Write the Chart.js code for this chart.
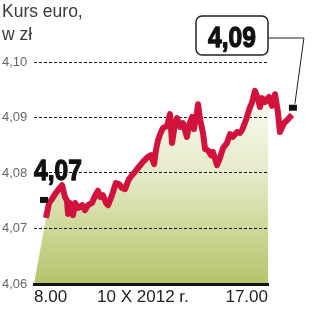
<!DOCTYPE html>
<html>
<head>
<meta charset="utf-8">
<script src="https://cdn.jsdelivr.net/npm/chart.js@4/dist/chart.umd.min.js"></script>
<style>
html,body{margin:0;padding:0;background:#fff;}
#wrap{position:relative;width:336px;height:334px;}
#title{position:absolute;left:2px;top:0px;font:17.5px "Liberation Sans",Arial,sans-serif;color:#3a3a3a;line-height:23px;}
</style>
</head>
<body>
<div id="wrap">
<canvas id="c"></canvas>
<div id="title">Kurs euro,<br>w zł</div>
</div>
<script>
// Time of day (decimal hours) and EUR/PLN rate, 10 X 2012
const times = [8.46,8.58,8.69,8.81,8.92,9.08,9.19,9.27,9.31,9.38,9.50,9.58,9.69,9.85,9.96,10.08,10.23,10.35,10.46,10.54,10.65,10.77,10.85,11.00,11.15,11.27,11.38,11.50,11.65,11.81,12.00,12.19,12.38,12.50,12.62,12.69,12.77,12.85,12.96,13.12,13.23,13.31,13.42,13.50,13.62,13.73,13.88,13.96,14.08,14.15,14.27,14.31,14.38,14.50,14.58,14.69,14.81,14.88,15.04,15.15,15.27,15.42,15.54,15.65,15.81,15.92,16.00,16.15,16.31,16.38,16.50,16.62,16.69,16.77,16.88,17.04,17.15,17.27,17.38,17.46,17.62,17.81,17.92];
const rates = [4.0719,4.0746,4.0753,4.0762,4.0769,4.0778,4.0757,4.0750,4.0726,4.0746,4.0724,4.0746,4.0737,4.0742,4.0733,4.0742,4.0746,4.0759,4.0768,4.0757,4.0760,4.0746,4.0742,4.0760,4.0782,4.0780,4.0773,4.0771,4.0789,4.0798,4.0809,4.0820,4.0829,4.0832,4.0816,4.0841,4.0859,4.0870,4.0881,4.0885,4.0906,4.0854,4.0888,4.0899,4.0883,4.0890,4.0865,4.0886,4.0901,4.0879,4.0910,4.0924,4.0899,4.0872,4.0843,4.0841,4.0832,4.0838,4.0814,4.0827,4.0845,4.0854,4.0870,4.0865,4.0874,4.0872,4.0877,4.0895,4.0919,4.0926,4.0948,4.0933,4.0919,4.0935,4.0928,4.0937,4.0921,4.0942,4.0910,4.0874,4.0890,4.0899,4.0905];
const fillEdgeTimes = [8, 17];
const xRange = [8, 17];
const yTicks = [4.06, 4.07, 4.08, 4.09, 4.10];
const xTickValues = [8, 12.19, 17];
const xTickLabels = ['8.00', '10 X 2012 r.', '17.00'];
const openLabel = '4,07';
const closeLabel = '4,09';

const linePts = times.map((t, i) => ({x: t, y: rates[i]}));
const fillPts = [{x: fillEdgeTimes[0], y: yTicks[0]}, ...linePts, {x: fillEdgeTimes[1], y: yTicks[0]}];

const BIG = 'bold 30px "Liberation Sans", Arial, sans-serif';
const SQUEEZE = 0.82;

function condensedText(c, txt, x, y, align) {
  c.save();
  c.font = BIG;
  const w = c.measureText(txt).width * SQUEEZE;
  let x0 = x;
  if (align === 'center') x0 = x - w / 2;
  c.translate(x0, y);
  c.scale(SQUEEZE, 1);
  c.textAlign = 'left';
  c.textBaseline = 'alphabetic';
  c.fillStyle = '#111';
  c.strokeStyle = '#111';
  c.lineWidth = 1.3;
  c.lineJoin = 'round';
  c.fillText(txt, 0, 0);
  c.strokeText(txt, 0, 0);
  c.restore();
}

// let the filler paint the area slightly past the axis end (the area's slanted right edge)
const wideFill = {
  id: 'wideFill',
  beforeRender(chart) {
    const a = chart.chartArea;
    this._saved = a.right;
    a.right = chart.width;
    a.width = a.right - a.left;
  },
  beforeDraw(chart) {
    const a = chart.chartArea;
    if (this._saved !== undefined) { a.right = this._saved; a.width = a.right - a.left; this._saved = undefined; }
  }
};

const annot = {
  id: 'annot',
  afterDraw(chart) {
    const c = chart.ctx, a = chart.chartArea;
    const pts = chart.getDatasetMeta(0).data;
    const first = pts[0], last = pts[pts.length - 1];
    c.save();
    condensedText(c, openLabel, a.left, first.y - 38, 'left');
    c.fillStyle = '#111';
    c.fillRect(first.x - 6, first.y - 21, 8, 6);
    const bx1 = a.right, bx0 = a.right - 72, by0 = 16, by1 = 55;
    c.beginPath();
    if (c.roundRect) c.roundRect(bx0, by0, bx1 - bx0, by1 - by0, 6); else c.rect(bx0, by0, bx1 - bx0, by1 - by0);
    c.fillStyle = '#fff';
    c.fill();
    c.lineWidth = 1.5;
    c.strokeStyle = '#222';
    c.stroke();
    condensedText(c, closeLabel, (bx0 + bx1) / 2, 47, 'center');
    c.beginPath();
    c.lineWidth = 1;
    c.strokeStyle = '#222';
    c.moveTo(bx1, 38);
    c.lineTo(last.x + 12, 38);
    c.lineTo(last.x + 3, last.y - 11);
    c.stroke();
    c.fillStyle = '#111';
    c.fillRect(last.x - 3, last.y - 10, 8, 6);
    c.restore();
  }
};

new Chart(document.getElementById('c'), {
  type: 'line',
  data: {
    datasets: [
      {
        data: linePts,
        borderColor: '#d1123d',
        borderWidth: 6,
        borderJoinStyle: 'round',
        pointRadius: 0,
        tension: 0,
        fill: false,
        clip: false
      },
      {
        data: fillPts,
        borderWidth: 0,
        borderColor: 'rgba(0,0,0,0)',
        pointRadius: 0,
        tension: 0,
        fill: 'start',
        clip: false,
        backgroundColor: (ctx) => {
          const ch = ctx.chart;
          if (!ch.chartArea) return '#d6dca6';
          const g = ch.ctx.createLinearGradient(0, ch.scales.y.getPixelForValue(4.095), 0, ch.scales.y.getPixelForValue(4.06));
          g.addColorStop(0, '#fbfbf3');
          g.addColorStop(0.45, '#e6e9c6');
          g.addColorStop(1, '#b5c369');
          return g;
        }
      }
    ]
  },
  options: {
    responsive: true,
    maintainAspectRatio: false,
    animation: false,
    layout: {padding: {top: 62, right: 68, left: 2, bottom: 0}},
    plugins: {
      legend: {display: false},
      tooltip: {enabled: false},
      filler: {drawTime: 'beforeDraw'}
    },
    scales: {
      x: {
        type: 'linear',
        bounds: 'data',
        afterDataLimits: (s) => { s.min = xRange[0]; s.max = xRange[1]; },
        afterBuildTicks: (s) => { s.ticks = xTickValues.map(v => ({value: v})); },
        afterFit: (s) => { s.height = 50; },
        grid: {display: false, drawTicks: false},
        border: {display: true, color: '#141414', width: 3},
        ticks: {
          align: 'inner',
          autoSkip: false,
          maxRotation: 0,
          padding: 3,
          color: '#222',
          font: {family: '"Liberation Sans", Arial, sans-serif', size: 17},
          callback: (v) => { const i = xTickValues.indexOf(v); return i >= 0 ? xTickLabels[i] : ''; }
        }
      },
      y: {
        min: yTicks[0], max: yTicks[yTicks.length - 1],
        afterBuildTicks: (s) => { s.ticks = yTicks.map(v => ({value: v})); },
        afterFit: (s) => { s.width = 32; },
        grid: {color: '#111', lineWidth: 1, drawTicks: false, borderDash: [3, 2]},
        border: {display: false, dash: [3, 2]},
        ticks: {
          crossAlign: 'far',
          padding: 0,
          color: '#666',
          font: {family: '"Liberation Sans", Arial, sans-serif', size: 13},
          callback: (v) => v.toFixed(2).replace('.', ',')
        }
      }
    }
  },
  plugins: [wideFill, annot]
});
</script>
</body>
</html>
